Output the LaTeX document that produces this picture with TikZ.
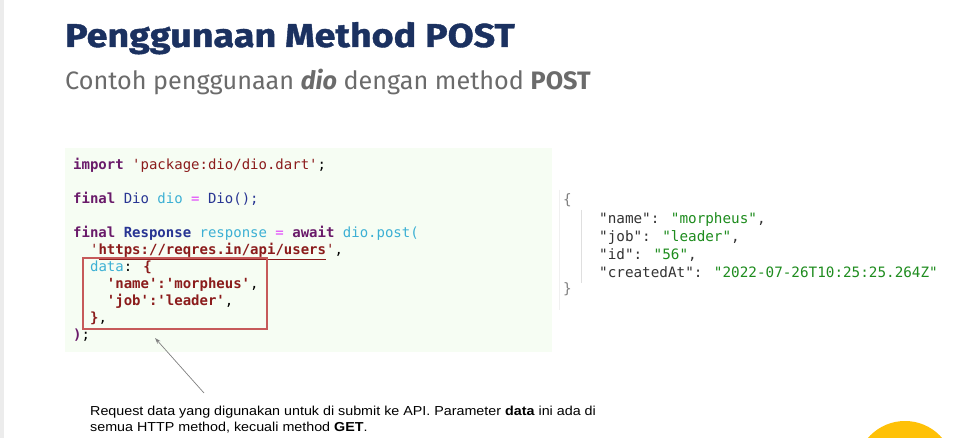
\documentclass[tikz,border=0pt]{standalone}
\usepackage{fontspec}
\setmainfont{Fira Sans}
\newfontfamily\titlefont{Fira Sans}[FakeStretch=1.14, FakeBold=1.2]
\newfontfamily\codefont{DejaVu Sans Mono}
\newfontfamily\notefont{Liberation Sans}[FakeStretch=1.1]
\usetikzlibrary{arrows.meta}

\definecolor{titleblue}{HTML}{1B3160}
\definecolor{subgray}{HTML}{6B6B6B}
\definecolor{codebg}{HTML}{F6FDF3}
\definecolor{kwpurple}{HTML}{6A1B6A}
\definecolor{tynavy}{HTML}{283593}
\definecolor{varblue}{HTML}{3CB0D4}
\definecolor{opmagenta}{HTML}{E040FB}
\definecolor{strred}{HTML}{8B1C1C}
\definecolor{boxred}{HTML}{C65A5A}
\definecolor{jsonkey}{HTML}{333333}
\definecolor{jsonval}{HTML}{1E8C1E}
\definecolor{sunyellow}{HTML}{FFC107}

\newcommand\sqt{\char"27\relax}
\newcommand\ckw[1]{\textbf{\color{kwpurple}#1}}
\newcommand\cty[1]{{\color{tynavy}#1}}
\newcommand\cvar[1]{{\color{varblue}#1}}
\newcommand\cop[1]{{\color{opmagenta}#1}}
\newcommand\cstr[1]{{\color{strred}#1}}

\begin{document}
\begin{tikzpicture}[x=1pt, y=-1pt,
		codeline/.style={anchor=base west, inner sep=0pt, font=\codefont\fontsize{14}{17}\selectfont},
		jsonline/.style={anchor=base west, inner sep=0pt, text=jsonkey, font=\codefont\fontsize{14.3}{18}\selectfont},
		noteline/.style={anchor=base west, inner sep=0pt, font=\notefont\fontsize{13}{17}\selectfont}]
		\useasboundingbox (0,0) rectangle (964,438);
		\clip (0,0) rectangle (964,438);

		% Draw page
		\fill[white] (0,0) rectangle (964,438);
		\fill[gray!15] (0,0) rectangle (4,438);
		\fill[sunyellow] (905,470) circle (49);

		% Draw title
		\node[anchor=base west, inner sep=0pt, text=titleblue, font=\titlefont\bfseries\fontsize{33}{36}\selectfont] (title) at (65,47) {Penggunaan Method POST};
		\node[anchor=base west, inner sep=0pt, text=subgray, font=\fontsize{25.2}{28}\selectfont] (subtitle) at (65,90) {Contoh penggunaan \textbf{\itshape dio} dengan method \textbf{POST}};

		% Draw code
		\fill[codebg] (65,148) rectangle (552,352);
		\node[codeline] (code1) at (73,170) {\ckw{import} \cstr{\sqt package:dio/dio.dart\sqt};};
		\node[codeline] (code2) at (73,204) {\ckw{final} \cty{Dio} \cvar{dio} \cop{=} \cty{Dio();}};
		\node[codeline] (code3) at (73,238) {\ckw{final} \textbf{\cty{Response}} \cvar{response} \cop{=} \ckw{await} \cvar{dio.post(}};
		\node[codeline] (code4) at (89.9,255) {\cstr{\sqt\textbf{\underline{https://reqres.in/api/users}}\sqt},};
		\node[codeline] (code5) at (89.9,272) {\cvar{data}: \textbf{\cstr{\{}}};
		\node[codeline] (code6) at (106.7,289) {\textbf{\cstr{\sqt name\sqt:\sqt morpheus\sqt}},};
		\node[codeline] (code7) at (106.7,306) {\textbf{\cstr{\sqt job\sqt:\sqt leader\sqt}},};
		\node[codeline] (code8) at (89.9,323) {\textbf{\cstr{\}}},};
		\node[codeline] (code9) at (73,340) {\ckw{)};};
		\draw[boxred, line width=1.1pt] (83,258) rectangle (267,329);

		% Draw response
		\draw[gray!12] (559,190) -- (559,310);
		\draw[gray!25] (581,210) -- (581,283);
		\node[jsonline, text=gray] (open) at (563,205) {\{};
		\node[jsonline] (json1) at (599,224) {"name": \textcolor{jsonval}{"morpheus"},};
		\node[jsonline] (json2) at (599,242) {"job": \textcolor{jsonval}{"leader"},};
		\node[jsonline] (json3) at (599,260) {"id": \textcolor{jsonval}{"56"},};
		\node[jsonline] (json4) at (599,278) {"createdAt": \textcolor{jsonval}{"2022-07-26T10:25:25.264Z"}};
		\node[jsonline, text=gray] (close) at (563,294) {\}};

		% Draw note
		\node[noteline] (note1) at (90,415.5) {Request data yang digunakan untuk di submit ke API. Parameter \textbf{data} ini ada di};
		\node[noteline] (note2) at (90,431.5) {semua HTTP method, kecuali method \textbf{GET}.};
		\coordinate (tail) at (204,393);
		\coordinate (tip) at (155,338);
		\draw[gray, line width=0.7pt, -{Stealth[length=6pt, width=4pt]}] (tail) -- (tip);
	\end{tikzpicture}
\end{document}
